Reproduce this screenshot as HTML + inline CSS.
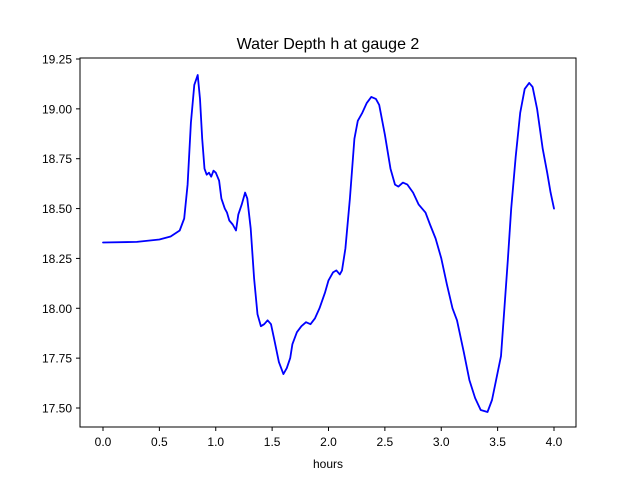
<!DOCTYPE html>
<html><head><meta charset="utf-8"><style>
body{margin:0;background:#fff;}
svg{display:block;font-family:"Liberation Sans","DejaVu Sans",sans-serif;}
</style></head><body>
<svg id="chart" width="640" height="480">
<rect width="640" height="480" fill="#fff"/>
<text x="328" y="49" text-anchor="middle" font-size="16">Water Depth h at gauge 2</text>
<g id="xticks"></g>
<g id="yticks"></g>
<path id="line" fill="none" stroke="#0000ff" stroke-width="1.8" stroke-linejoin="round" stroke-linecap="round"/>
<rect x="80" y="58" width="496" height="369" fill="none" stroke="#000" stroke-width="1"/>
<text x="328" y="468" text-anchor="middle" font-size="12">hours</text>
</svg>
<script>
const hours=[0,0.3,0.5,0.6,0.68,0.72,0.75,0.78,0.81,0.84,0.86,0.88,0.9,0.92,0.94,0.96,0.98,1.0,1.03,1.05,1.08,1.1,1.12,1.15,1.18,1.2,1.23,1.26,1.28,1.31,1.34,1.37,1.4,1.43,1.46,1.49,1.52,1.56,1.6,1.63,1.66,1.68,1.72,1.76,1.8,1.84,1.88,1.92,1.97,2.0,2.04,2.07,2.1,2.12,2.15,2.19,2.23,2.26,2.3,2.34,2.38,2.42,2.45,2.5,2.55,2.59,2.62,2.66,2.7,2.75,2.8,2.86,2.9,2.95,3.0,3.05,3.1,3.14,3.2,3.25,3.3,3.35,3.41,3.45,3.49,3.53,3.56,3.59,3.62,3.66,3.7,3.74,3.78,3.81,3.85,3.9,3.94,3.97,4.0];
const depth=[18.33,18.333,18.345,18.36,18.39,18.45,18.62,18.93,19.12,19.17,19.05,18.85,18.7,18.67,18.68,18.66,18.69,18.68,18.64,18.55,18.5,18.48,18.44,18.42,18.39,18.47,18.52,18.58,18.55,18.4,18.15,17.97,17.91,17.92,17.94,17.92,17.84,17.73,17.67,17.7,17.75,17.82,17.88,17.91,17.93,17.92,17.95,18.0,18.08,18.14,18.18,18.19,18.17,18.19,18.3,18.55,18.85,18.94,18.98,19.03,19.06,19.05,19.02,18.87,18.7,18.62,18.61,18.63,18.62,18.58,18.52,18.48,18.42,18.35,18.25,18.12,18.0,17.94,17.78,17.64,17.55,17.49,17.48,17.54,17.65,17.76,18.0,18.24,18.5,18.76,18.98,19.1,19.13,19.11,19.0,18.8,18.68,18.58,18.5];
const xTicks=[0,0.5,1,1.5,2,2.5,3,3.5,4];
const yTicks=[17.5,17.75,18,18.25,18.5,18.75,19,19.25];
const NS="http://www.w3.org/2000/svg";
function sx(v){return 103+v*112.75;}
function sy(v){return 408-(v-17.5)*199.43;}
const xg=document.getElementById('xticks'),yg=document.getElementById('yticks');
xTicks.forEach(t=>{
 const l=document.createElementNS(NS,'line');
 
 
 l.setAttribute('x1',sx(t));l.setAttribute('x2',sx(t));l.setAttribute('y1',427);l.setAttribute('y2',431);l.setAttribute('stroke','#000');
 xg.appendChild(l);
 const tx=document.createElementNS(NS,'text');
 
 
 tx.setAttribute('x',sx(t));tx.setAttribute('y',446);tx.setAttribute('text-anchor','middle');tx.setAttribute('font-size','12');
 tx.textContent=t.toFixed(1);xg.appendChild(tx);
});
yTicks.forEach(t=>{
 const l=document.createElementNS(NS,'line');
 
 
 l.setAttribute('x1',76);l.setAttribute('x2',80);l.setAttribute('y1',sy(t));l.setAttribute('y2',sy(t));l.setAttribute('stroke','#000');
 yg.appendChild(l);
 const tx=document.createElementNS(NS,'text');
 
 
 tx.setAttribute('x',72);tx.setAttribute('y',sy(t)+4.5);tx.setAttribute('text-anchor','end');tx.setAttribute('font-size','12');
 tx.textContent=t.toFixed(2);yg.appendChild(tx);
});
document.getElementById('line').setAttribute('d',hours.map((h,i)=>(i?'L':'M')+sx(h).toFixed(1)+','+sy(depth[i]).toFixed(1)).join(''));
</script>
</body></html>
